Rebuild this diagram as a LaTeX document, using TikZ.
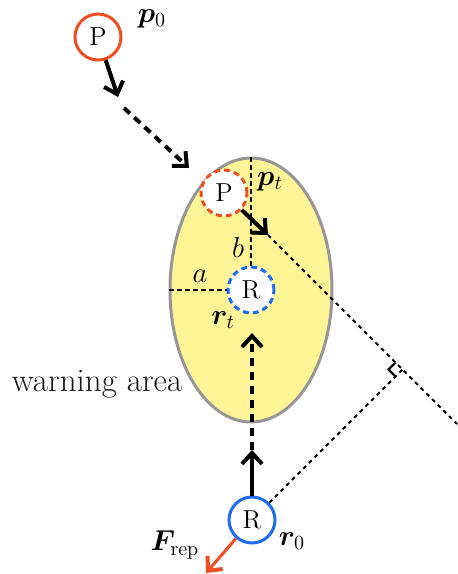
\documentclass[tikz,border=0pt]{standalone}
\usepackage{bm}
\usetikzlibrary{arrows.meta,calc,shapes.geometric}
\definecolor{agentred}{RGB}{240,78,35}
\definecolor{robotblue}{RGB}{30,108,240}
\definecolor{warnyellow}{RGB}{255,244,150}
\definecolor{warngray}{RGB}{150,150,150}
\begin{document}
\begin{tikzpicture}[x=0.5pt,y=-0.5pt,
    agent/.style={circle,minimum size=23pt,inner sep=0pt,line width=1.5pt,fill=white,
      font=\fontsize{13}{15}\selectfont},
    ghost/.style={agent,dash pattern=on 3pt off 2pt},
    barb/.style={-{Straight Barb[length=5.5pt,width=10pt,line width=2pt]}},
    move/.style={barb,line width=2pt},
    trail/.style={barb,line width=2pt,dash pattern=on 4pt off 3pt},
    axis/.style={line width=1pt,dash pattern=on 2.5pt off 1.5pt},
    sight/.style={line width=0.9pt,dash pattern=on 2pt off 2pt},
    lbl/.style={font=\fontsize{14}{16}\selectfont,inner sep=0pt}]
  \useasboundingbox (0,0) rectangle (457,574);
  % warning area around the robot
  \node[ellipse,draw=warngray,fill=warnyellow,line width=1.5pt,inner sep=0pt,
    minimum width=81pt,minimum height=132pt] (warn) at (251,290) {};
  \node[font=\fontsize{16.5}{18}\selectfont,text=black!90] (warnlbl) at (97,384) {warning area};
  \node[ghost,draw=agentred] (Pt) at (224,193) {P};
  \node[ghost,draw=robotblue] (Rt) at (warn.center) {R};
  \draw[axis] (warn.north) -- (Rt.north);
  \draw[axis] (warn.west) -- (Rt.west);
  \node[lbl] (blbl) at (238,247) {$b$};
  \node[lbl] (albl) at (200,276) {$a$};
  \node[lbl] (ptlbl) at (270,182) {$\bm{p}_t$};
  \node[lbl] (rtlbl) at (223,320) {$\bm{r}_t$};
  % person
  \node[agent,draw=agentred] (P0) at (98,37) {P};
  \node[lbl] (p0lbl) at (152,19) {$\bm{p}_0$};
  \coordinate (p0tip) at (118,97);
  \coordinate (trailstart) at (124,108);
  \coordinate (trailend) at (189,168);
  \draw[move] (P0) -- (p0tip);
  \draw[trail] (trailstart) -- (trailend);
  \coordinate (pttip) at (268,235);
  \coordinate (sightend) at (457,424);
  \draw[move] (Pt) -- (pttip);
  \draw[sight] (pttip) -- (sightend);
  % robot
  \node[agent,draw=robotblue] (R0) at (252,520) {R};
  \node[lbl] (r0lbl) at (292,541) {$\bm{r}_0$};
  \coordinate (foot) at ($(pttip)!(R0)!(sightend)$);
  \draw[sight] (R0) -- (foot);
  \draw[line width=1.2pt] ([shift={(-7,7)}]foot) -- ([shift={(-14,0)}]foot)
    -- ([shift={(-7,-7)}]foot);
  \coordinate (r0tip) at (252,450);
  \coordinate (rttip) at (252,333);
  \draw[move] (R0) -- (r0tip);
  \draw[trail] (r0tip) -- (rttip);
  \coordinate (freptip) at (206,573);
  \draw[barb,draw=agentred,line width=1.5pt] (R0) -- (freptip);
  \node[lbl] (freplbl) at (175,545) {$\bm{F}_{\mathrm{rep}}$};
\end{tikzpicture}
\end{document}
